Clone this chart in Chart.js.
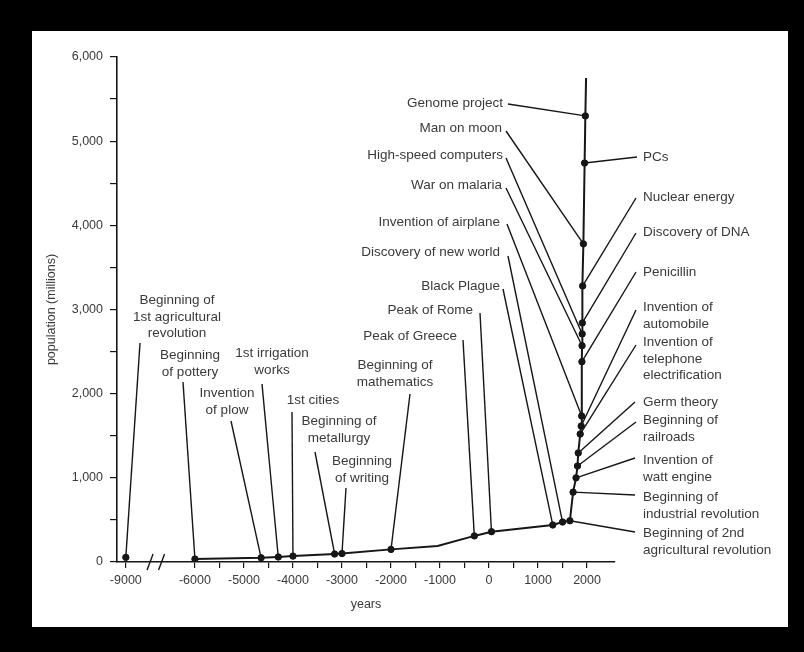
<!DOCTYPE html>
<html>
<head>
<meta charset="utf-8">
<script src="https://cdn.jsdelivr.net/npm/chart.js@4.4.1/dist/chart.umd.min.js"></script>
<style>
html,body{margin:0;padding:0;background:#000;}
canvas{display:block;filter:blur(0.45px);}
</style>
</head>
<body>
<canvas id="c" width="804" height="652"></canvas>
<script>
// ---------------- DATA ----------------
const eventNames = [
  "Beginning of\n1st agricultural\nrevolution",
  "Beginning\nof pottery",
  "Invention\nof plow",
  "1st irrigation\nworks",
  "1st cities",
  "Beginning of\nmetallurgy",
  "Beginning\nof writing",
  "Beginning of\nmathematics",
  "Peak of Greece",
  "Peak of Rome",
  "Black Plague",
  "Discovery of new world",
  "Beginning of 2nd\nagricultural revolution",
  "Beginning of\nindustrial revolution",
  "Invention of\nwatt engine",
  "Beginning of\nrailroads",
  "Germ theory",
  "Invention of\ntelephone\nelectrification",
  "Invention of\nautomobile",
  "Invention of airplane",
  "Penicillin",
  "War on malaria",
  "High-speed computers",
  "Discovery of DNA",
  "Nuclear energy",
  "Man on moon",
  "PCs",
  "Genome project"
];
const eventYears  = [-9000, -6000, -4650, -4300, -4000, -3150, -3000, -2000, -300, 50, 1300, 1500, 1650, 1715, 1775, 1805, 1820, 1860, 1880, 1890, 1895, 1898, 1900, 1903, 1910, 1925, 1950, 1965];
const eventValues = [55, 35, 50, 60, 70, 95, 100, 150, 310, 360, 440, 475, 490, 830, 1000, 1140, 1295, 1520, 1615, 1735, 2380, 2570, 2710, 2840, 3280, 3780, 4740, 5300];

// extra vertices of the population curve (no event marker)
const bendYears  = [-1050, 1980];
const bendValues = [190, 5750];

const xTickYears  = [-9000, -6000, -5500, -5000, -4500, -4000, -3500, -3000, -2500, -2000, -1500, -1000, -500, 0, 500, 1000, 1500, 2000];
const yTickValues = [0, 500, 1000, 1500, 2000, 2500, 3000, 3500, 4000, 4500, 5000, 5500, 6000];

// ---------------- BROKEN AXIS MAPPING ----------------
const BREAK_AT = -6000, BREAK_FACTOR = 0.47;
function axisX(year){ return year < BREAK_AT ? BREAK_AT + (year - BREAK_AT) * BREAK_FACTOR : year; }
function yearFromAxis(u){ return u < BREAK_AT ? Math.round(BREAK_AT + (u - BREAK_AT) / BREAK_FACTOR) : Math.round(u); }
const X_MIN = -7590, X_MAX = 2570;

// ---------------- LAYOUT (label anchors, pixels) ----------------
// [align, textX, firstLineY, leaderStartX, leaderStartY]
const labelLayout = [
  ['center', 177, 300, 140, 343],
  ['center', 190, 355, 183, 382],
  ['center', 227, 393, 231, 421],
  ['center', 272, 353, 262, 384],
  ['center', 313, 400, 292, 412],
  ['center', 339, 421, 315, 452],
  ['center', 362, 461, 346, 488],
  ['center', 395, 365, 410, 394],
  ['right', 457, 336, 463, 340],
  ['right', 473, 310, 480, 313],
  ['right', 500, 286, 503, 289],
  ['right', 500, 252, 508, 256],
  ['left', 643, 533, 635, 532],
  ['left', 643, 497, 635, 495],
  ['left', 643, 460, 635, 458],
  ['left', 643, 420, 636, 422],
  ['left', 643, 402, 635, 402],
  ['left', 643, 342, 636, 345],
  ['left', 643, 307, 636, 310],
  ['right', 500, 222, 507, 224],
  ['left', 643, 272, 636, 272],
  ['right', 502, 185, 506, 188],
  ['right', 503, 155, 506, 158],
  ['left', 643, 232, 636, 233],
  ['left', 643, 197, 636, 198],
  ['right', 502, 128, 506, 131],
  ['left', 643, 157, 637, 157],
  ['right', 503, 103, 508, 104]
];
const breakMarks = [-6916, -6681];

const FONT = '"Liberation Sans", Arial, sans-serif';
const TEXT = '#3a3a3a';
const INK = '#161616';

// ---------------- BUILD DATASETS ----------------
const eventPoints = eventYears.map((y, i) => ({x: axisX(y), y: eventValues[i]}));
const curveSrc = eventYears.map((y, i) => [y, eventValues[i]])
  .concat(bendYears.map((y, i) => [y, bendValues[i]]))
  .sort((a, b) => a[0] - b[0]);
const curvePoints = [];
curveSrc.forEach((p, i) => {
  curvePoints.push({x: axisX(p[0]), y: p[1]});
  if (p[0] < BREAK_AT && curveSrc[i + 1] && curveSrc[i + 1][0] >= BREAK_AT) {
    curvePoints.push({x: axisX((p[0] + BREAK_AT) / 2), y: null}); // gap across the axis break
  }
});

const pagePlugin = {
  id: 'page',
  beforeDraw(chart){
    const c = chart.ctx;
    c.save();
    c.fillStyle = '#000';
    c.fillRect(0, 0, chart.width, chart.height);
    c.fillStyle = '#fff';
    c.fillRect(32, 31, 756, 596);
    c.restore();
  }
};

const annotePlugin = {
  id: 'annote',
  beforeDatasetsDraw(chart){
    const c = chart.ctx, xs = chart.scales.x, ys = chart.scales.y;
    c.save();
    c.strokeStyle = INK;
    c.lineWidth = 1.4;
    labelLayout.forEach((L, i) => {
      const px = xs.getPixelForValue(axisX(eventYears[i]));
      const py = ys.getPixelForValue(eventValues[i]);
      c.beginPath();
      c.moveTo(L[3], L[4]);
      c.lineTo(px, py);
      c.stroke();
    });
    // axis break marks
    const y0 = ys.getPixelForValue(0);
    c.lineWidth = 1.4;
    breakMarks.forEach(u => {
      const bx = xs.getPixelForValue(u);
      c.beginPath();
      c.moveTo(bx - 3, y0 + 8);
      c.lineTo(bx + 3, y0 - 8);
      c.stroke();
    });
    c.restore();
  },
  afterDraw(chart){
    const c = chart.ctx;
    c.save();
    c.fillStyle = TEXT;
    c.font = '13.5px ' + FONT;
    c.textBaseline = 'middle';
    labelLayout.forEach((L, i) => {
      c.textAlign = L[0];
      eventNames[i].split('\n').forEach((line, k) => {
        c.fillText(line, L[1], L[2] + k * 16.8);
      });
    });
    c.restore();
  }
};

new Chart(document.getElementById('c'), {
  type: 'scatter',
  data: {
    datasets: [
      {
        type: 'line',
        data: curvePoints,
        borderColor: INK,
        borderWidth: 2,
        pointRadius: 0,
        tension: 0,
        spanGaps: false,
        fill: false,
        order: 2
      },
      {
        type: 'scatter',
        data: eventPoints,
        backgroundColor: INK,
        borderColor: INK,
        pointRadius: 3.2,
        order: 1
      }
    ]
  },
  options: {
    responsive: false,
    animation: false,
    devicePixelRatio: 1,
    layout: {padding: {left: 0, top: 57, right: 189, bottom: 0}},
    plugins: {legend: {display: false}, tooltip: {enabled: false}},
    scales: {
      x: {
        type: 'linear',
        min: X_MIN,
        max: X_MAX,
        afterFit(s){ s.height = 90; },
        afterBuildTicks(s){ s.ticks = xTickYears.map(y => ({value: axisX(y)})); },
        grid: {drawOnChartArea: false, drawTicks: true, tickLength: 6, color: INK, lineWidth: 1.2},
        border: {display: true, color: INK, width: 1.6},
        ticks: {
          autoSkip: false, maxRotation: 0, minRotation: 0, padding: 5.5,
          color: TEXT, font: {family: FONT, size: 12.5},
          callback(v){ const yr = yearFromAxis(v); return yr % 1000 === 0 ? String(yr) : ''; }
        },
        title: {display: true, text: 'years', color: TEXT, font: {family: FONT, size: 12.5}, padding: {top: 0, bottom: 39.5}}
      },
      y: {
        type: 'linear',
        min: 0,
        max: 6000,
        afterFit(s){ s.width = 117; },
        afterBuildTicks(s){ s.ticks = yTickValues.map(v => ({value: v})); },
        grid: {drawOnChartArea: false, drawTicks: true, tickLength: 7, color: INK, lineWidth: 1.2},
        border: {display: true, color: INK, width: 1.6},
        ticks: {
          padding: 7, color: TEXT, font: {family: FONT, size: 12.5},
          callback(v){ return v % 1000 === 0 ? v.toLocaleString('en-US') : ''; }
        },
        title: {display: true, text: 'population (millions)', color: TEXT, font: {family: FONT, size: 12.5}, padding: {top: 44.5, bottom: 0}}
      }
    }
  },
  plugins: [pagePlugin, annotePlugin]
});
</script>
</body>
</html>
